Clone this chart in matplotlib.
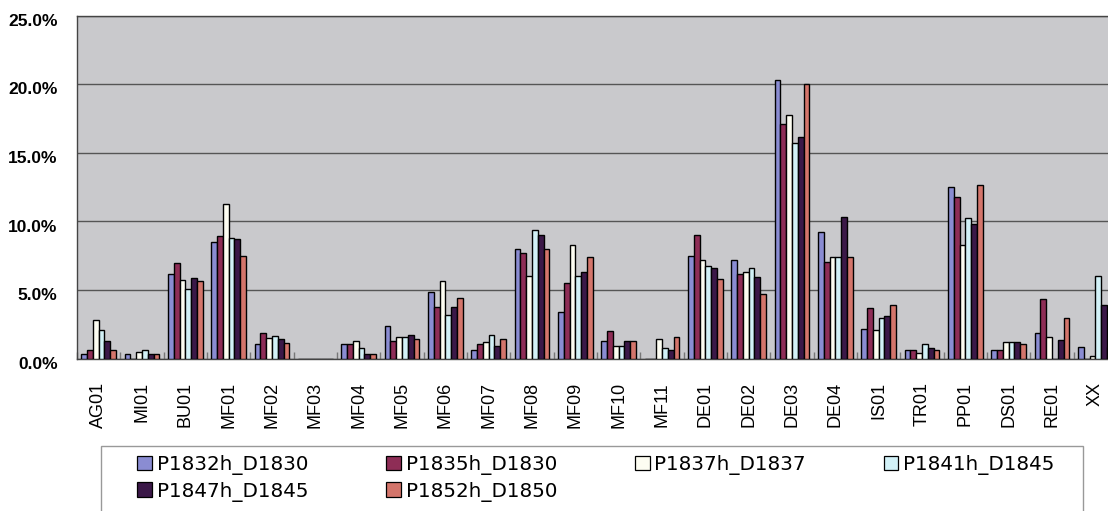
import matplotlib
matplotlib.use("Agg")
import matplotlib.pyplot as plt
import matplotlib.transforms as mtransforms
from matplotlib.patches import Patch, Rectangle
from matplotlib.ticker import FuncFormatter, FixedLocator
import numpy as np

categories = ["AG01", "MI01", "BU01", "MF01", "MF02", "MF03", "MF04", "MF05",
              "MF06", "MF07", "MF08", "MF09", "MF10", "MF11", "DE01", "DE02",
              "DE03", "DE04", "IS01", "TR01", "PP01", "DS01", "RE01", "XX"]

series_names = ["P1832h_D1830", "P1835h_D1830", "P1837h_D1837",
                "P1841h_D1845", "P1847h_D1845", "P1852h_D1850"]

p1832 = [0.36, 0.30, 6.16, 8.50, 1.04, 0.0, 1.04, 2.39, 4.83, 0.63, 7.97, 3.36,
         1.30, 0.0, 7.46, 7.17, 20.36, 9.20, 2.12, 0.62, 12.54, 0.62, 1.83, 0.87]
p1835 = [0.63, 0.0, 7.00, 8.96, 1.83, 0.0, 1.04, 1.30, 3.74, 1.04, 7.73, 5.53,
         2.00, 0.0, 8.99, 6.20, 17.10, 7.04, 3.72, 0.62, 11.76, 0.62, 4.32, 0.0]
p1837 = [2.80, 0.49, 5.70, 11.30, 1.50, 0.0, 1.30, 1.60, 5.67, 1.18, 6.04, 8.26,
         0.90, 1.43, 7.17, 6.30, 17.77, 7.40, 2.07, 0.42, 8.30, 1.22, 1.58, 0.15]
p1841 = [2.10, 0.60, 5.07, 8.80, 1.67, 0.0, 0.75, 1.60, 3.19, 1.69, 9.40, 6.04,
         0.90, 0.77, 6.76, 6.60, 15.70, 7.40, 2.92, 1.03, 10.23, 1.22, 0.0, 6.00]
p1847 = [1.30, 0.30, 5.90, 8.70, 1.43, 0.0, 0.36, 1.71, 3.74, 0.92, 8.99, 6.33,
         1.30, 0.65, 6.64, 5.92, 16.17, 10.36, 3.09, 0.79, 9.82, 1.22, 1.34, 3.94]
p1852 = [0.63, 0.30, 5.65, 7.45, 1.16, 0.0, 0.36, 1.45, 4.44, 1.43, 7.97, 7.44,
         1.30, 1.60, 5.80, 4.69, 20.00, 7.40, 3.89, 0.62, 12.68, 1.03, 2.97, 0.87]

series_values = [p1832, p1835, p1837, p1841, p1847, p1852]
colors = ["#8a8cd2", "#8e2d56", "#fdfdf2", "#d2f1f7", "#3b1848", "#d4756b"]

W, H = 1108, 511
fig = plt.figure(figsize=(W / 100, H / 100), dpi=100)
fig.patch.set_facecolor("white")

ax_left, ax_right, ax_top, ax_bottom = 77, 1117, 16, 358.5
ax = fig.add_axes([ax_left / W, 1 - ax_bottom / H,
                   (ax_right - ax_left) / W, (ax_bottom - ax_top) / H])
ax.set_facecolor("#c9c9cc")

n = len(categories)
x = np.arange(n)
bw = 0.134
offsets = (np.arange(6) - 2.5) * bw
for vals, off, col, name in zip(series_values, offsets, colors, series_names):
    ax.bar(x + off, vals, width=bw, color=col, edgecolor="black",
           linewidth=1.0, label=name, zorder=3)

ax.set_xlim(-0.5, n - 0.5)
ax.set_ylim(0, 25)
ax.set_yticks(np.arange(0, 26, 5))
ax.yaxis.set_major_formatter(FuncFormatter(lambda v, p: f"{v:.1f}%"))
ax.grid(axis="y", color="#555555", linewidth=1.0, zorder=1)
ax.set_axisbelow(True)

ax.set_xticks(x)
ax.set_xticklabels(categories, rotation=90, va="top", ha="center",
                   fontsize=13, family="Liberation Sans")
ax.xaxis.set_minor_locator(FixedLocator(np.arange(-0.5, n, 1.0)))
ax.tick_params(axis="x", which="major", length=0, pad=17)
ax.tick_params(axis="x", which="minor", direction="in", length=5,
               color="#777777", width=1)
ax.tick_params(axis="y", length=0, pad=14)
shift = mtransforms.ScaledTranslation(0, -4 / 100, fig.dpi_scale_trans)
for lab in ax.get_yticklabels():
    lab.set_fontfamily("Liberation Sans")
    lab.set_fontweight("bold")
    lab.set_fontsize(12.5)
    lab.set_transform(lab.get_transform() + shift)

for sp in ["left", "bottom", "top"]:
    ax.spines[sp].set_color("#444444")
    ax.spines[sp].set_linewidth(1.0)
ax.spines["right"].set_visible(False)

handles = [Patch(facecolor=c, edgecolor="black", linewidth=0.9) for c in colors]
order = [0, 4, 1, 5, 2, 3]
fig.legend([handles[i] for i in order], [series_names[i] for i in order],
           ncol=4, loc="upper left",
           bbox_to_anchor=(137 / W, 1 - 455 / H),
           frameon=False, fontsize=14.3, handlelength=0.75, handleheight=0.75,
           handletextpad=0.25, columnspacing=3.9, labelspacing=0.33,
           borderpad=0, borderaxespad=0)

fig.add_artist(Rectangle((100.7 / W, -0.05), (1083 - 100.7) / W,
                         (511 - 446) / H + 0.05, transform=fig.transFigure,
                         fill=False, edgecolor="#999999", linewidth=1.0))

fig.savefig("out.png", dpi=100)
